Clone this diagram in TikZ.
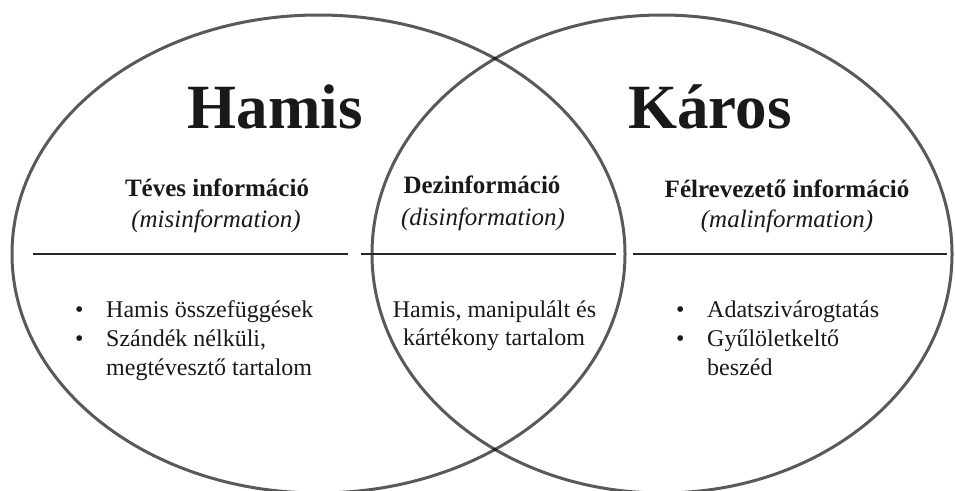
\documentclass[tikz,border=0pt]{standalone}
\usepackage{fontspec}
\setmainfont{Liberation Serif}
\newcommand{\felsorol}{\makebox[31pt][l]{\textbullet}}
\begin{document}
\begin{tikzpicture}[x=1pt,y=-1pt,
    halmaz/.style={draw=black, draw opacity=0.65, line width=3pt},
    valaszto/.style={draw=black!85, line width=1.8pt},
    cim/.style={font=\fontsize{63}{63}\selectfont\bfseries, anchor=base, text=black!90},
    fejlec/.style={font=\fontsize{25}{25}\selectfont\bfseries, anchor=base, text=black!90},
    angol/.style={font=\fontsize{25}{25}\selectfont\itshape, anchor=base, text=black!90},
    pont/.style={font=\fontsize{24}{24}\selectfont, anchor=base west, inner sep=0pt, text=black!90},
    szoveg/.style={font=\fontsize{24}{24}\selectfont, anchor=base, text=black!90}]
    \useasboundingbox (0,0) rectangle (955,490);
    % Ket halmaz
    \draw[halmaz] (318.5,254) ellipse [x radius=306.5pt, y radius=239pt];
    \draw[halmaz] (662,254) ellipse [x radius=290pt, y radius=239pt];
    % Elvalaszto vonalak
    \draw[valaszto] (33,254) -- (348,254);
    \draw[valaszto] (361,254) -- (616,254);
    \draw[valaszto] (633,254) -- (947,254);
    % Cimek
    \node[cim] (hamis) at (275,128) {Hamis};
    \node[cim] (karos) at (710,128) {Káros};
    % Fejlecek
    \node[fejlec] (teves) at (217,196) {Téves információ};
    \node[angol] (teves-en) at (216,227) {(misinformation)};
    \node[fejlec] (dezinf) at (482,193) {Dezinformáció};
    \node[angol] (dezinf-en) at (483,225) {(disinformation)};
    \node[fejlec] (felrev) at (787,197) {Félrevezető információ};
    \node[angol] (felrev-en) at (787,227) {(malinformation)};
    % Bal oldali pontok
    \node[pont] (bal1) at (75,317) {\felsorol Hamis összefüggések};
    \node[pont] (bal2) at (75,346) {\felsorol Szándék nélküli,};
    \node[pont] (bal3) at (106,375) {megtévesztő tartalom};
    % Kozepso szoveg
    \node[szoveg] (kozep1) at (494.5,317) {Hamis, manipulált és};
    \node[szoveg] (kozep2) at (494,345) {kártékony tartalom};
    % Jobb oldali pontok
    \node[pont] (jobb1) at (676,317) {\felsorol Adatszivárogtatás};
    \node[pont] (jobb2) at (676,346) {\felsorol Gyűlöletkeltő};
    \node[pont] (jobb3) at (707,375) {beszéd};
\end{tikzpicture}
\end{document}
